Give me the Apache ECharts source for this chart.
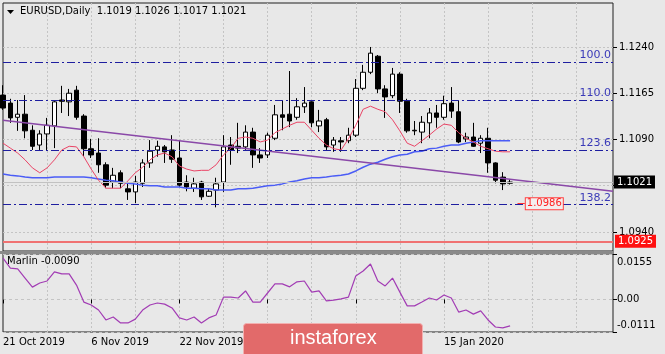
<!DOCTYPE html>
<html><head><meta charset="utf-8">
<script src="https://cdn.jsdelivr.net/npm/echarts@6/dist/echarts.min.js"></script>
<style>html,body{margin:0;padding:0;background:#e8e8e8}#c{width:665px;height:354px}</style>
</head><body><div id="c"></div><script>
const dates = ['2019.10.21','2019.10.22','2019.10.23','2019.10.24','2019.10.25','2019.10.28','2019.10.29','2019.10.30','2019.10.31','2019.11.01','2019.11.04','2019.11.05','2019.11.06','2019.11.07','2019.11.08','2019.11.11','2019.11.12','2019.11.13','2019.11.14','2019.11.15','2019.11.18','2019.11.19','2019.11.20','2019.11.21','2019.11.22','2019.11.25','2019.11.26','2019.11.27','2019.11.28','2019.11.29','2019.12.02','2019.12.03','2019.12.04','2019.12.05','2019.12.06','2019.12.09','2019.12.10','2019.12.11','2019.12.12','2019.12.13','2019.12.16','2019.12.17','2019.12.18','2019.12.19','2019.12.20','2019.12.23','2019.12.24','2019.12.26','2019.12.27','2019.12.30','2019.12.31','2020.01.02','2020.01.03','2020.01.06','2020.01.07','2020.01.08','2020.01.09','2020.01.10','2020.01.13','2020.01.14','2020.01.15','2020.01.16','2020.01.17','2020.01.20','2020.01.21','2020.01.22','2020.01.23','2020.01.24','2020.01.27','2020.01.28'];
const futureDates = ['2020.01.29','2020.01.30','2020.01.31','2020.02.03','2020.02.04','2020.02.05','2020.02.06','2020.02.07','2020.02.10','2020.02.11','2020.02.12','2020.02.13','2020.02.14','2020.02.17'];
const opens = [1.1162,1.1149,1.1126,1.1131,1.1105,1.1081,1.1099,1.1112,1.1154,1.1151,1.1170,1.1128,1.1075,1.1068,1.1049,1.1021,1.1036,1.1010,1.1005,1.1019,1.1052,1.1073,1.1078,1.1073,1.1060,1.1021,1.1011,1.1021,1.0998,1.1008,1.1021,1.1081,1.1079,1.1078,1.1102,1.1065,1.1065,1.1092,1.1130,1.1131,1.1126,1.1143,1.1151,1.1112,1.1122,1.1081,1.1088,1.1088,1.1097,1.1173,1.1199,1.1225,1.1172,1.1161,1.1196,1.1152,1.1105,1.1102,1.1117,1.1133,1.1126,1.1149,1.1135,1.1091,1.1094,1.1084,1.1092,1.1052,1.1029,1.1019];
const closes = [1.1141,1.1125,1.1131,1.1104,1.1079,1.1099,1.1113,1.1151,1.1152,1.1165,1.1126,1.1075,1.1065,1.1049,1.1016,1.1032,1.1019,1.1005,1.1021,1.1052,1.1071,1.1079,1.1070,1.1058,1.1016,1.1013,1.1018,1.0997,1.1006,1.1018,1.1078,1.1073,1.1076,1.1102,1.1065,1.1060,1.1097,1.1130,1.1126,1.1120,1.1143,1.1149,1.1117,1.1120,1.1078,1.1089,1.1086,1.1097,1.1173,1.1199,1.1230,1.1172,1.1159,1.1196,1.1152,1.1104,1.1104,1.1118,1.1133,1.1126,1.1148,1.1136,1.1086,1.1094,1.1079,1.1092,1.1052,1.1024,1.1018,1.1021];
const lows = [1.1138,1.1117,1.1104,1.1092,1.1073,1.1073,1.1073,1.1076,1.1133,1.1128,1.1122,1.1063,1.1060,1.1036,1.1011,1.1011,1.1011,1.0992,1.0987,1.1013,1.1044,1.1062,1.1052,1.1052,1.1013,1.1006,1.1005,1.0992,1.0997,1.0980,1.1005,1.1049,1.1068,1.1073,1.1044,1.1052,1.1060,1.1089,1.1105,1.1110,1.1122,1.1133,1.1110,1.1102,1.1073,1.1070,1.1070,1.1084,1.1094,1.1170,1.1196,1.1165,1.1125,1.1157,1.1133,1.1101,1.1097,1.1084,1.1092,1.1109,1.1122,1.1125,1.1084,1.1086,1.1078,1.1068,1.1036,1.1019,1.1008,1.1017];
const highs = [1.1178,1.1156,1.1154,1.1162,1.1113,1.1105,1.1125,1.1154,1.1177,1.1172,1.1177,1.1131,1.1091,1.1092,1.1053,1.1044,1.1040,1.1021,1.1031,1.1058,1.1089,1.1088,1.1081,1.1097,1.1089,1.1032,1.1028,1.1023,1.1011,1.1028,1.1097,1.1094,1.1117,1.1113,1.1109,1.1076,1.1101,1.1146,1.1154,1.1201,1.1157,1.1175,1.1152,1.1138,1.1125,1.1094,1.1094,1.1109,1.1188,1.1211,1.1240,1.1227,1.1178,1.1206,1.1199,1.1156,1.1120,1.1128,1.1141,1.1146,1.1161,1.1175,1.1154,1.1101,1.1117,1.1097,1.1109,1.1053,1.1037,1.1026];
const fastMA = [1.1084,1.1076,1.1068,1.1057,1.1044,1.1036,1.1044,1.1057,1.1073,1.1079,1.1078,1.1062,1.1042,1.1024,1.1011,1.1011,1.1011,1.1023,1.1036,1.1045,1.1057,1.1065,1.1068,1.1062,1.1047,1.1042,1.1039,1.1040,1.1040,1.1049,1.1065,1.1076,1.1092,1.1094,1.1092,1.1086,1.1089,1.1101,1.1107,1.1113,1.1118,1.1118,1.1105,1.1092,1.1081,1.1075,1.1073,1.1091,1.1113,1.1139,1.1144,1.1139,1.1135,1.1122,1.1104,1.1084,1.1079,1.1088,1.1097,1.1107,1.1115,1.1113,1.1101,1.1092,1.1086,1.1079,1.1075,1.1071,1.1070,1.1070];
const slowMA = [1.1034,1.1032,1.1031,1.1029,1.1028,1.1028,1.1028,1.1029,1.1029,1.1029,1.1029,1.1029,1.1028,1.1026,1.1024,1.1023,1.1021,1.1019,1.1018,1.1016,1.1015,1.1015,1.1013,1.1013,1.1013,1.1011,1.1011,1.1010,1.1010,1.1008,1.1008,1.1008,1.1010,1.1010,1.1011,1.1013,1.1015,1.1016,1.1018,1.1021,1.1023,1.1026,1.1028,1.1028,1.1029,1.1031,1.1032,1.1034,1.1039,1.1045,1.1050,1.1053,1.1058,1.1062,1.1065,1.1066,1.1070,1.1071,1.1075,1.1076,1.1079,1.1081,1.1081,1.1084,1.1086,1.1088,1.1088,1.1088,1.1088,1.1088];
const marlin = [0.0141,0.0107,0.0104,0.0073,0.0042,0.0056,0.0063,0.0094,0.0087,0.0087,0.0049,-0.0009,-0.0019,-0.0036,-0.0070,-0.0060,-0.0080,-0.0080,-0.0067,-0.0036,-0.0019,-0.0012,-0.0016,-0.0029,-0.0063,-0.0070,-0.0060,-0.0080,-0.0063,-0.0053,0.0008,0.0008,0.0005,0.0029,-0.0009,-0.0009,0.0022,0.0053,0.0053,0.0043,0.0060,0.0063,0.0025,0.0029,-0.0005,-0.0002,0.0002,0.0008,0.0080,0.0097,0.0121,0.0063,0.0046,0.0073,0.0025,-0.0022,-0.0022,-0.0009,0.0005,-0.0002,0.0015,0.0005,-0.0043,-0.0036,-0.0050,-0.0039,-0.0070,-0.0094,-0.0097,-0.0090];
const trendStart = 1.1121, trendEnd = 1.1006;
const fibLevels = [1.1216, 1.1154, 1.1073, 1.0985];
const fibNames = ['100.0', '110.0', '123.6', '138.2'];
const priceTicks = [1.0940, 1.1015, 1.1090, 1.1165, 1.1240];
const marlinTicks = [-0.0111, 0, 0.0155];
const tickDates = ['2019.10.21','2019.11.06','2019.11.22','2019.12.10','2019.12.27','2020.01.15'];
const tickLabels = ['21 Oct 2019','6 Nov 2019','22 Nov 2019','10 Dec 2019','27 Dec 2019','15 Jan 2020'];
const lastPrice = 1.1021, supportLevel = 1.0925, targetLevel = 1.0986;
const headerText = 'EURUSD,Daily  1.1019 1.1026 1.1017 1.1021';
const marlinText = 'Marlin -0.0090';

const allDates = dates.concat(futureDates);
const FONT = 'DejaVu Sans';
const candles = dates.map((d, i) => [opens[i], closes[i], lows[i], highs[i]]);
const lastIdx = allDates.length - 1;

const fibMarks = fibLevels.map((v, i) => ({
  yAxis: v, name: fibNames[i],
  lineStyle: { color: '#1e1ea0', width: 1, type: [8, 3, 2, 3] },
  label: { show: true, position: 'insideEndTop', formatter: '{b}', color: '#3a3ab8', fontFamily: FONT, fontSize: 11, distance: [2, 1] }
}));

const chart = echarts.init(document.getElementById('c'), null, { renderer: 'canvas' });
chart.setOption({
  animation: false,
  backgroundColor: '#e8e8e8',
  textStyle: { fontFamily: FONT },
  grid: [
    { left: 3, top: 3, width: 610, height: 248, show: true, borderColor: '#202020', borderWidth: 1, backgroundColor: 'transparent' },
    { left: 3, top: 254, width: 610, height: 78, show: true, borderColor: '#202020', borderWidth: 1, backgroundColor: 'transparent' }
  ],
  xAxis: [
    { type: 'category', gridIndex: 0, data: allDates, boundaryGap: false,
      axisLine: { show: false }, axisTick: { show: false }, axisLabel: { show: false },
      splitLine: { show: true, interval: (i) => i % 6 === 0 && i > 0, lineStyle: { color: '#c4c4c4', type: [2, 2] } } },
    { type: 'category', gridIndex: 1, data: allDates, boundaryGap: false,
      axisLine: { show: false },
      axisTick: { show: true, interval: (i, v) => tickDates.includes(v), length: 4, lineStyle: { color: '#000' } },
      axisLabel: { show: true, interval: (i, v) => tickDates.includes(v), formatter: (v) => tickLabels[tickDates.indexOf(v)] || '',
        align: 'left', margin: 5, color: '#000', fontFamily: FONT, fontSize: 10 },
      splitLine: { show: true, interval: (i) => i % 6 === 0 && i > 0, lineStyle: { color: '#c4c4c4', type: [2, 2] } } }
  ],
  yAxis: [
    { type: 'value', gridIndex: 0, position: 'right', min: 1.09092, max: 1.13113, scale: true,
      axisLine: { show: false },
      axisTick: { show: true, customValues: priceTicks, length: 4, lineStyle: { color: '#000' } },
      axisLabel: { show: true, customValues: priceTicks, formatter: (v) => v.toFixed(4), margin: 6, color: '#000', fontFamily: FONT, fontSize: 10 },
      splitLine: { show: true, lineStyle: { color: '#c4c4c4', type: [2, 2] } } },
    { type: 'value', gridIndex: 1, position: 'right', min: -0.0111, max: 0.0155,
      axisLine: { show: false },
      axisTick: { show: true, customValues: marlinTicks, length: 4, lineStyle: { color: '#000' } },
      axisLabel: { show: true, customValues: marlinTicks, margin: 4, color: '#000', fontFamily: FONT, fontSize: 10,
        formatter: (v) => v > 0.001 ? '{t|' + v.toFixed(4) + '}' : (v < -0.001 ? '{b|' + v.toFixed(4) + '}' : '0.00'),
        rich: { t: { padding: [16, 0, 0, 0], fontFamily: FONT, fontSize: 10, color: '#000' },
                b: { padding: [0, 0, 14, 0], fontFamily: FONT, fontSize: 10, color: '#000' } } },
      splitLine: { show: true, lineStyle: { color: '#c4c4c4', type: [3, 3] } } }
  ],
  series: [
    { type: 'candlestick', xAxisIndex: 0, yAxisIndex: 0, data: candles, barWidth: 5, z: 3,
      itemStyle: { color: '#ffffff', color0: '#000000', borderColor: '#000000', borderColor0: '#000000', borderColorDoji: '#000000', borderWidth: 1 },
      markLine: { silent: true, symbol: ['none', 'none'], precision: 4,
        data: [
          { yAxis: lastPrice, lineStyle: { color: '#c2c2c2', width: 1, type: 'solid' },
            label: { show: true, position: 'end', distance: 1, formatter: lastPrice.toFixed(4), color: '#fff', backgroundColor: '#000', padding: [2, 3, 1, 3], fontFamily: FONT, fontSize: 10 } },
          { yAxis: supportLevel, lineStyle: { color: '#f07272', width: 2, type: 'solid' },
            label: { show: true, position: 'end', distance: 2, formatter: supportLevel.toFixed(4), color: '#fff', backgroundColor: '#ff1010', padding: [2, 3, 1, 3], fontFamily: FONT, fontSize: 10 } },
          ...fibMarks,
          [ { coord: [70, targetLevel], lineStyle: { color: '#ff3030', width: 1, type: 'solid' },
              label: { show: true, position: 'end', distance: 1, formatter: targetLevel.toFixed(4), color: '#ff2020', backgroundColor: '#f4eeee', borderColor: '#ff4040', borderWidth: 1, padding: [1, 1, 0, 1], fontFamily: FONT, fontSize: 10 } },
            { coord: [71, targetLevel] } ]
        ] } },
    { type: 'line', xAxisIndex: 0, yAxisIndex: 0, data: slowMA, showSymbol: false, z: 4,
      lineStyle: { color: '#4a5cf6', width: 1.5 } },
    { type: 'line', xAxisIndex: 0, yAxisIndex: 0, data: fastMA, showSymbol: false, z: 4,
      lineStyle: { color: '#ea4466', width: 1 } },
    { type: 'line', xAxisIndex: 0, yAxisIndex: 0, data: [[0, trendStart], [lastIdx, trendEnd]], showSymbol: false, z: 4,
      lineStyle: { color: '#8a48a8', width: 1.5 } },
    { type: 'line', xAxisIndex: 1, yAxisIndex: 1, data: marlin, showSymbol: false, z: 4,
      lineStyle: { color: '#a23cb4', width: 1.2 } }
  ],
  graphic: [
    { type: 'rect', left: 0, top: 251, shape: { width: 614, height: 3 }, style: { fill: '#8a8a8a' }, z: 10 },
    { type: 'polygon', shape: { points: [[7, 10], [14, 10], [10.5, 14]] }, style: { fill: '#000' }, z: 10 },
    { type: 'text', left: 20, top: 6, style: { text: headerText, fill: '#000', font: '10px "DejaVu Sans"' }, z: 10 },
    { type: 'text', left: 7, top: 256, style: { text: marlinText, fill: '#000', font: '10px "DejaVu Sans"' }, z: 10 },
    { type: 'rect', left: 243, top: 323, shape: { width: 179, height: 40, r: 3 }, style: { fill: '#e26a6a', stroke: '#f3b0b0', lineWidth: 1 }, z: 20 },
    { type: 'text', left: 290, top: 328, style: { text: 'instaforex', fill: '#ffffff', font: '20px "Liberation Sans"' }, z: 21 }
  ]
});
</script></body></html>
